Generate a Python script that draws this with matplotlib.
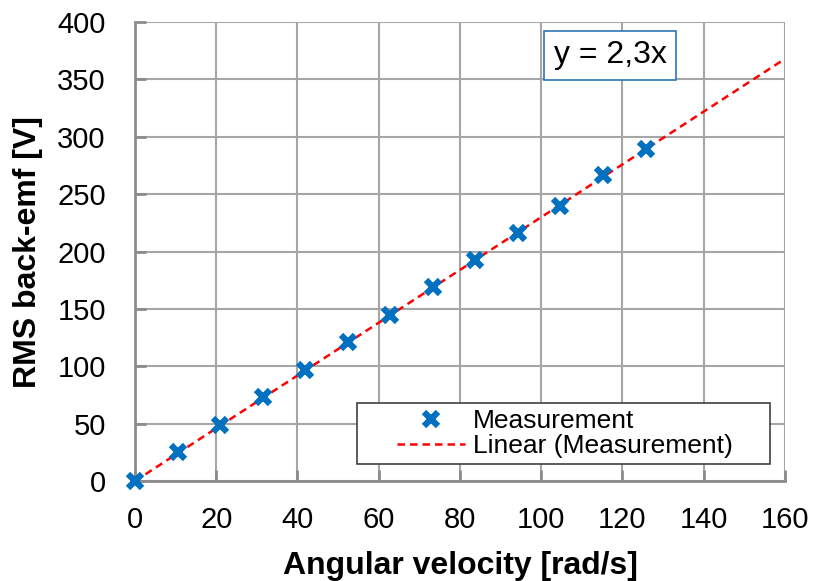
import matplotlib.pyplot as plt
from matplotlib.patches import Rectangle
import numpy as np

plt.rcParams['font.family'] = ['Liberation Sans', 'DejaVu Sans']

# Measured back-emf vs angular velocity
omega = [0, 10.5, 20.9, 31.4, 41.9, 52.4, 62.8, 73.3, 83.8, 94.2, 104.7, 115.2, 125.7]
emf = [0, 25, 49, 73, 97, 121, 145, 169, 193, 216, 240, 267, 289]
slope = 2.3
x_ticks = list(range(0, 161, 20))
y_ticks = list(range(0, 401, 50))

fig = plt.figure(figsize=(8.16, 5.81), dpi=100)
ax = fig.add_axes([0.1654, 0.172, 0.7966, 0.790])

grid_c = '#a6a6a6'
ax.set_xlim(0, 160)
ax.set_ylim(0, 400)
ax.set_xticks(x_ticks)
ax.set_yticks(y_ticks)
ax.grid(True, color=grid_c, linewidth=1.5)
ax.set_axisbelow(True)
for side in ['top', 'right']:
    ax.spines[side].set_visible(False)
for side in ['left', 'bottom']:
    ax.spines[side].set_color('#8c8c8c')
    ax.spines[side].set_linewidth(2)
ax.tick_params(direction='in', length=8, width=2, color='#8c8c8c',
               labelsize=21)
ax.tick_params(axis='x', pad=18)
ax.tick_params(axis='y', pad=21)

ax.plot(omega, emf, linestyle='none', marker='x', markersize=10,
        markeredgewidth=4.5, color='#0070C0', label='Measurement', clip_on=False, zorder=4)
xf = np.array([0, 160])
ax.plot(xf, slope * xf, linestyle=(0, (3, 2)), color='#ff0000', linewidth=1.8,
        label='Linear (Measurement)', zorder=3)

ax.set_xlabel('Angular velocity [rad/s]', fontsize=23, fontweight='bold', labelpad=12)
ax.set_ylabel('RMS back-emf [V]', fontsize=23, fontweight='bold', labelpad=10)

# legend box drawn separately so it can be wider than the entries
ax.add_patch(Rectangle((0.3415, 0.037), 0.6355, 0.133, transform=ax.transAxes,
                       facecolor='white', edgecolor='#404040', linewidth=1.2,
                       zorder=5))
leg = ax.legend(loc='center', bbox_to_anchor=(0.6615, 0.1035), fontsize=19,
                frameon=False, borderpad=0, handlelength=2.6, handletextpad=0.3,
                labelspacing=0.05)
leg.set_zorder(6)

ax.text(0.7315, 0.928, 'y = 2,3x', transform=ax.transAxes, fontsize=23,
        ha='center', va='center',
        bbox=dict(boxstyle='square,pad=0.3', facecolor='white',
                  edgecolor='#2e75b6', linewidth=1.2))

fig.savefig('out.png', dpi=100)
